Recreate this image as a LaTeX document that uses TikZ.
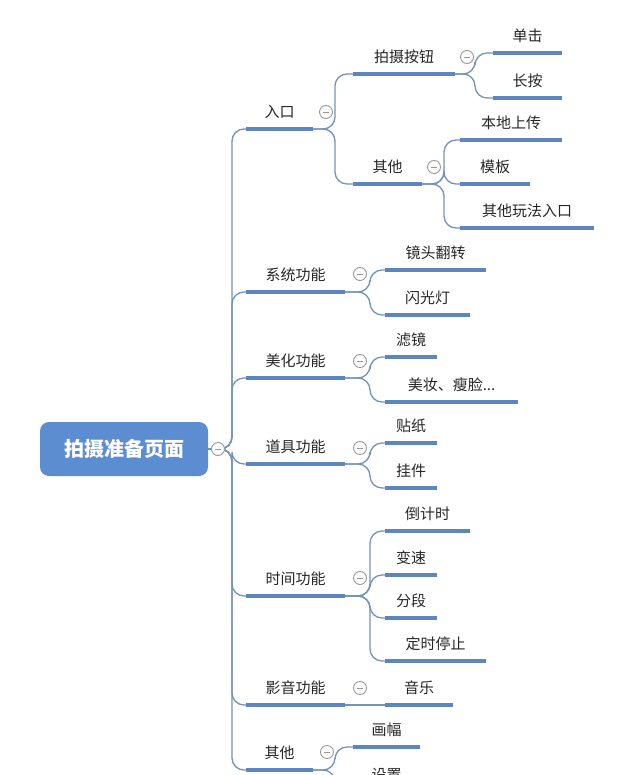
\documentclass[tikz,border=0pt]{standalone}
\usepackage{fontspec}
\newfontfamily\cjk{Noto Sans CJK SC}
\begin{document}
\begin{tikzpicture}[x=1pt,y=-1pt,
  ul/.style={draw=ulblue,line width=3.5pt},
  conn/.style={draw=lnblue,line width=1.3pt,rounded corners=12pt},
  txt/.style={font=\cjk\fontsize{15}{15}\selectfont,text=black!85},
  mc/.style={circle,draw=gray!80,line width=0.9pt,minimum size=13pt,inner sep=0pt,fill=white,
    path picture={\draw[gray!80,line width=0.9pt] ([xshift=-3pt]path picture bounding box.center)--([xshift=3pt]path picture bounding box.center);}}]
\definecolor{ulblue}{HTML}{5D86BF}
\definecolor{lnblue}{HTML}{7393B8}
\definecolor{rootblue}{HTML}{5B8DD0}
\useasboundingbox (0,0) rectangle (639,775);
\clip (0,0) rectangle (639,775);
\newcommand\lbl[5]{\coordinate (#1s) at (#2,#4); \coordinate (#1e) at (#3,#4);
  \draw[ul] (#1s)--(#1e); \node[txt] (#1) at ({(#2+#3)/2},#4-17) {#5};}
\newcommand\br[3]{\draw[conn] (#1e) -- (#3,0 |- #1e) |- (#2s);}
% root
\node[fill=rootblue,rounded corners=9pt,minimum width=168pt,minimum height=54pt,text=white,
  font=\cjk\bfseries\fontsize{20}{20}\selectfont] (root) at (124,449) {拍摄准备页面};
\coordinate (roote) at (root.east);
\coordinate (rootm) at (232,449);
% level 1
\lbl{a}{246}{313}{129}{入口}
\lbl{b}{246}{345}{292}{系统功能}
\lbl{c}{246}{345}{378}{美化功能}
\lbl{d}{246}{345}{464}{道具功能}
\lbl{e}{246}{345}{596}{时间功能}
\lbl{f}{246}{345}{705}{影音功能}
\lbl{g}{246}{313}{770}{其他}
\foreach \k in {a,b,c,d,e,f,g}{\draw[conn] (roote) -- (rootm) |- (\k s);}
% level 2
\lbl{a1}{353}{455}{74}{拍摄按钮}
\lbl{a2}{353}{422}{184}{其他}
\br{a}{a1}{335}\br{a}{a2}{335}
\lbl{a11}{493}{562}{53}{单击}
\lbl{a12}{493}{562}{98}{长按}
\br{a1}{a11}{475}\br{a1}{a12}{475}
\lbl{a21}{460}{562}{140}{本地上传}
\lbl{a22}{460}{530}{184}{模板}
\lbl{a23}{460}{594}{228}{其他玩法入口}
\br{a2}{a21}{444}\br{a2}{a22}{444}\br{a2}{a23}{444}
\lbl{b1}{385}{486}{270}{镜头翻转}
\lbl{b2}{385}{470}{315}{闪光灯}
\br{b}{b1}{370}\br{b}{b2}{370}
\lbl{c1}{385}{437}{357}{滤镜}
\lbl{c2}{385}{518}{402}{美妆、瘦脸...}
\br{c}{c1}{370}\br{c}{c2}{370}
\lbl{d1}{385}{437}{443}{贴纸}
\lbl{d2}{385}{437}{488}{挂件}
\br{d}{d1}{370}\br{d}{d2}{370}
\lbl{e1}{385}{470}{531}{倒计时}
\lbl{e2}{385}{437}{575}{变速}
\lbl{e3}{385}{437}{618}{分段}
\lbl{e4}{385}{486}{661}{定时停止}
\br{e}{e1}{370}\br{e}{e2}{370}\br{e}{e3}{370}\br{e}{e4}{370}
\lbl{f1}{385}{453}{705}{音乐}
\draw[conn] (fe) -- (f1s);
\lbl{g1}{353}{420}{747}{画幅}
\lbl{g2}{353}{420}{792}{设置}
\br{g}{g1}{335}\br{g}{g2}{335}
% collapse circles
\node[mc] (m0) at (218,449) {};
\node[mc] (ma) at (326,112) {};
\node[mc] (ma1) at (467,57) {};
\node[mc] (ma2) at (434,167) {};
\node[mc] (mb) at (360,274) {};
\node[mc] (mc) at (360,361) {};
\node[mc] (md) at (360,448) {};
\node[mc] (me) at (360,578) {};
\node[mc] (mf) at (360,688) {};
\node[mc] (mg) at (327,752) {};
\end{tikzpicture}
\end{document}
